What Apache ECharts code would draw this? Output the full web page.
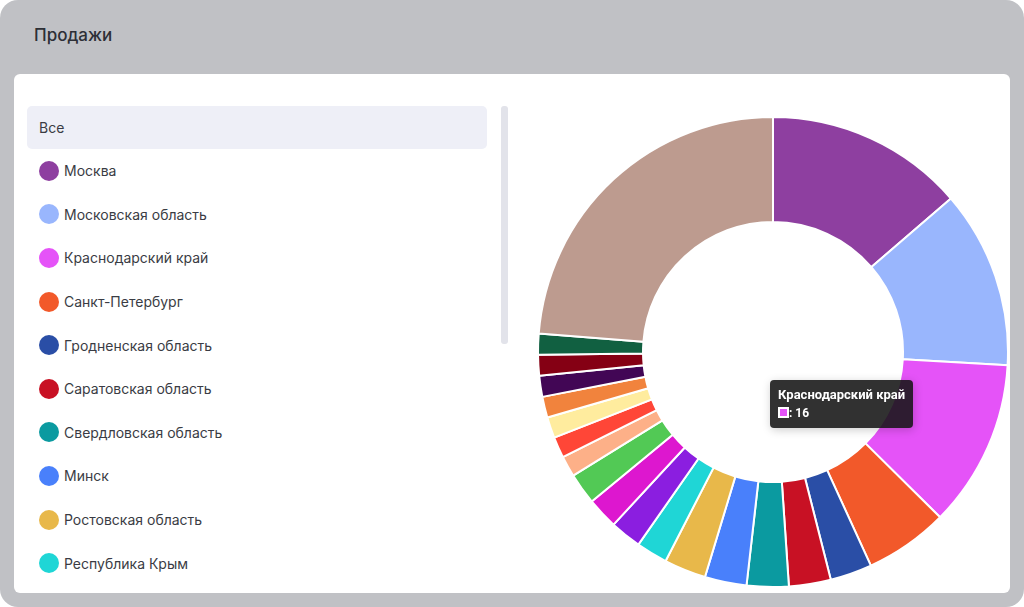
<!DOCTYPE html>
<html><head><meta charset="utf-8">
<script src="https://cdn.jsdelivr.net/npm/echarts@6/dist/echarts.min.js"></script>
<style>
body{margin:0;width:1024px;height:607px;background:#fff;font-family:Inter,"Noto Sans",sans-serif;overflow:hidden}
.wrap{position:absolute;left:0;top:0;width:1024px;height:607px;background:#c0c1c5;border-radius:18px}
.title{position:absolute;left:34px;top:25px;font-size:17px;font-weight:500;color:#2d2f36}
.card{position:absolute;left:14px;top:74px;width:996px;height:519px;background:#fff;border-radius:6px}
.list{position:absolute;left:13px;top:32px;width:460px}
.item{height:43.6px;display:flex;align-items:center;font-size:14px;color:#3a3c44;padding-left:12px;box-sizing:border-box}
.item.all{background:#eeeff7;border-radius:5px;height:43px;margin-bottom:0}
.dot{width:20px;height:20px;border-radius:50%;margin-right:5px}
.scroll{position:absolute;left:487px;top:32px;width:7px;height:238px;background:#e2e3ea;border-radius:3px}
#chart{position:absolute;left:506px;top:0;width:490px;height:519px}
</style></head><body>
<div class="wrap"><div class="title">Продажи</div>
<div class="card"><div class="list" id="list"><div class="item all">Все</div></div><div class="scroll"></div><div id="chart"></div></div></div>
<script>
var regions = ['Москва','Московская область','Краснодарский край','Санкт-Петербург','Гродненская область','Саратовская область','Свердловская область','Минск','Ростовская область','Республика Крым','Новосибирская область','Самарская область','Нижегородская область','Воронежская область','Татарстан','Тульская область','Брестская область','Калужская область','Ленинградская область','Другие'];
var sales = [19,17,16,8,4,4,4,4,4,3,3,3,3,2,2,2,2,2,2,2,33];
regions.splice(19,0,'Витебская область');
var colors = ['#8e3fa0','#99b6fd','#e553f8','#f2592a','#2a4ea6','#c81124','#0b9aa0','#4980fb','#e8b84a','#1fd6d6','#8b1ee0','#dd17cf','#52c955','#fdb088','#ff4637','#ffec9e','#f1833d','#420655','#850014','#116041','#bd9b8f'];

var list = document.getElementById('list');
for (var i = 0; i < 10; i++) {
  var d = document.createElement('div');
  d.className = 'item';
  d.innerHTML = '<span class="dot" style="background:' + colors[i] + '"></span>' + regions[i];
  list.appendChild(d);
}

var data = regions.map(function (n, i) { return { name: n, value: sales[i], itemStyle: { color: colors[i] } }; });
var myChart = echarts.init(document.getElementById('chart'));
myChart.setOption({
  animation: false,
  tooltip: {
    trigger: 'item',
    position: [250, 306],
    backgroundColor: 'rgba(20,20,20,0.88)',
    borderWidth: 0,
    padding: [6, 8],
    textStyle: { color: '#fff', fontSize: 12, fontFamily: 'Roboto' },
    formatter: function (p) {
      return '<b style="font-size:13px">' + p.name + '</b><br/><span style="display:inline-block;width:11px;height:11px;background:' + p.color + ';border:2px solid #fff;box-sizing:border-box;vertical-align:-1px"></span><b>: ' + p.value + '</b>';
    }
  },
  series: [{
    type: 'pie',
    center: [253, 278],
    radius: [130, 235],
    startAngle: 90,
    label: { show: false },
    itemStyle: { borderColor: '#fff', borderWidth: 2 },
    emphasis: { scale: false, itemStyle: { borderColor: '#f2e0ff' } },
    data: data
  }]
});
myChart.dispatchAction({ type: 'showTip', seriesIndex: 0, dataIndex: 2 });
</script></body></html>
